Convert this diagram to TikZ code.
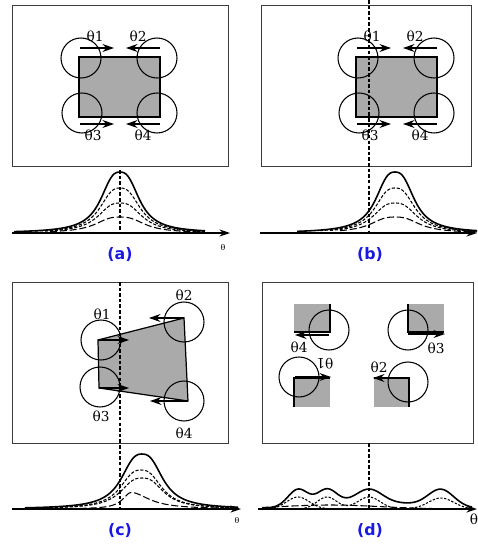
\documentclass[tikz,border=0pt]{standalone}
\usepackage{fontspec}
\setmainfont{DejaVu Serif}
\newfontfamily\tagfont{DejaVu Sans}
\usepackage{tikz}
\usetikzlibrary{arrows.meta}
\definecolor{blockgray}{RGB}{170,170,170}
\definecolor{framegray}{RGB}{60,60,60}
\definecolor{tagblue}{RGB}{25,25,225}
\tikzset{
  panel/.style={draw=framegray,line width=0.5pt},
  block/.style={draw=black,fill=blockgray,line width=0.7pt},
  edge/.style={draw=black,line width=0.7pt},
  probe/.style={draw=black,line width=0.6pt},
  push/.style={-{Stealth[length=6.5pt,width=4.5pt]},line width=0.7pt},
  anglab/.style={font=\fontsize{7.8}{9}\selectfont,inner sep=0pt},
  axlab/.style={font=\fontsize{4.5}{5}\selectfont,inner sep=0pt},
  tag/.style={font=\tagfont\bfseries\fontsize{9}{11}\selectfont,text=tagblue,inner sep=0pt},
  axis/.style={-{Stealth[length=6pt,width=4pt]},line width=0.7pt},
  guide/.style={dash pattern=on 2pt off 1.2pt,line width=0.6pt},
  total/.style={line width=0.9pt},
  part/.style={dash pattern=on 1.8pt off 1pt,line width=0.6pt},
  partlong/.style={dash pattern=on 4pt off 1.6pt,line width=0.6pt},
  partdot/.style={dash pattern=on 1.3pt off 0.9pt,line width=0.6pt},
}

\begin{document}
\begin{tikzpicture}[x=0.02cm,y=-0.02cm,
  declare function={bell(\x,\c,\h,\w)=\h*(0.7/(1+(abs(\x-\c)/\w)^3)+0.3/(1+((\x-\c)/(1.4*\w))^2));
                    gss(\x,\c,\h,\s)=\h*exp(-((\x-\c)/\s)^2);}]
  \useasboundingbox (0,0) rectangle (477,544);

  % (a) and (b): same rectangle, shifted
  \foreach \dx/\name in {0/A,277/B} {
    \begin{scope}[shift={(\dx,0)}]
      \draw[block] (79,57) rectangle (160,117);
      \draw[probe] (81,58) circle[radius=20];
      \draw[probe] (157,58) circle[radius=20];
      \draw[probe] (82,113) circle[radius=20];
      \draw[probe] (157,113) circle[radius=20];
      \draw[push] (80,48) -- (114,48);
      \draw[push] (160,48) -- (126,48);
      \draw[push] (80,124) -- (114,124);
      \draw[push] (160,124) -- (126,124);
      \node[anglab] (t1\name) at (95,36) {θ1};
      \node[anglab] (t2\name) at (138,36) {θ2};
      \node[anglab] (t3\name) at (93,135) {θ3};
      \node[anglab] (t4\name) at (143,135) {θ4};
    \end{scope}
  }
  \draw[panel] (12,5) rectangle (228,166);
  \draw[panel] (261,5) rectangle (471,166);

  \draw[axis] (12,233) -- (230,233);
  \node[axlab] (thA) at (223,247) {θ};
  \draw[guide] (120,170) -- (120,233);
  \draw[total] plot[domain=14:205,samples=100] (\x,{233-bell(\x,120,61,19.5)});
  \draw[part] plot[domain=35:205,samples=90] (\x,{233-bell(\x,120,45,20.5)});
  \draw[part] plot[domain=45:205,samples=90] (\x,{233-bell(\x,120,30,22.5)});
  \draw[partlong] plot[domain=50:205,samples=90] (\x,{233-bell(\x,120,16,25)});
  \node[tag] (tagA) at (120,255) {(a)};

  \draw[axis] (260,233) -- (477,233);
  \draw[guide] (369,0) -- (369,233);
  \draw[total] plot[domain=297:477,samples=100] (\x,{233-bell(\x,395,61,19.5)});
  \draw[part] plot[domain=320:477,samples=90] (\x,{233-bell(\x,395,45,20.5)});
  \draw[part] plot[domain=330:477,samples=90] (\x,{233-bell(\x,395,30,22.5)});
  \draw[partlong] plot[domain=340:477,samples=90] (\x,{233-bell(\x,395,16,25)});
  \node[tag] (tagB) at (370,255) {(b)};

  % (c) tilted block
  \draw[panel] (12,282) rectangle (228,443);
  \draw[block] (98,340) -- (184,318) -- (188,401) -- (99,388) -- cycle;
  \draw[probe] (101,340) circle[radius=20];
  \draw[probe] (184,322) circle[radius=20];
  \draw[probe] (100,387) circle[radius=20];
  \draw[probe] (184,401) circle[radius=20];
  \draw[push] (98,340) -- (129,340);
  \draw[push] (99,388) -- (129,388);
  \draw[push] (184,318) -- (149,318);
  \draw[push] (188,401) -- (150,401);
  \node[anglab] (t1C) at (102,314) {θ1};
  \node[anglab] (t2C) at (184,295) {θ2};
  \node[anglab] (t3C) at (101,416) {θ3};
  \node[anglab] (t4C) at (184,433) {θ4};
  \draw[guide] (120,282) -- (120,510);
  \draw[axis] (12,509) -- (241,509);
  \node[axlab] (thC) at (237,520) {θ};
  \draw[total] plot[domain=25:238,samples=100] (\x,{509-bell(\x,142,55,21)});
  \draw[part] plot[domain=50:238,samples=90] (\x,{509-bell(\x,141,39,21)});
  \draw[part] plot[domain=60:238,samples=90] (\x,{509-bell(\x,142,31,22)});
  \draw[partlong] plot[domain=60:235,samples=90]
    (\x,{509-16.5/(1+((\x-131)/(\x<131 ? 10 : 22))^2)});
  \node[tag] (tagC) at (120,531) {(c)};

  % (d) split block
  \draw[panel] (262,282) rectangle (473,443);
  \fill[blockgray] (294,304) rectangle (330,332);
  \fill[blockgray] (408,304) rectangle (444,332);
  \fill[blockgray] (294,378) rectangle (330,407);
  \fill[blockgray] (374,378) rectangle (409,407);
  \draw[edge] (330,304) -- (330,332) -- (294,332);
  \draw[edge] (408,304) -- (408,332) -- (444,332);
  \draw[edge] (294,407) -- (294,378) -- (330,378);
  \draw[edge] (374,378) -- (409,378) -- (409,407);
  \draw[probe] (329,330) circle[radius=20];
  \draw[probe] (408,330) circle[radius=20];
  \draw[probe] (299,377) circle[radius=20];
  \draw[probe] (408,382) circle[radius=20];
  \draw[push] (329,335) -- (295,335);
  \draw[push] (408,334) -- (445,334);
  \draw[push] (295,377) -- (331,377);
  \draw[push] (408,378) -- (373,378);
  \node[anglab] (t4D) at (299,347) {θ4};
  \node[anglab] (t3D) at (436,348) {θ3};
  \node[anglab,rotate=180] (t1D) at (325,364) {θ1};
  \node[anglab] (t2D) at (379,367) {θ2};
  \draw[guide] (369,443) -- (369,509);
  \draw[axis] (258,509) -- (477,509);
  \node[anglab] (thD) at (474,519) {θ};
  \draw[total] plot[domain=262:472,samples=120]
    (\x,{509-gss(\x,370,7,75)-gss(\x,298,17,14)-gss(\x,327,15,14)-gss(\x,369,13,18)-gss(\x,441,17,18)});
  \draw[partdot] plot[domain=262:472,samples=100]
    (\x,{509-gss(\x,298,12,16)-gss(\x,441,11,18)});
  \draw[partdot] plot[domain=262:472,samples=100]
    (\x,{509-gss(\x,327,12,14)-gss(\x,369,12,16)});
  \draw[partlong] plot[domain=262:472,samples=60] (\x,{509-gss(\x,330,4,70)});
  \node[tag] (tagD) at (370,531) {(d)};
\end{tikzpicture}
\end{document}
